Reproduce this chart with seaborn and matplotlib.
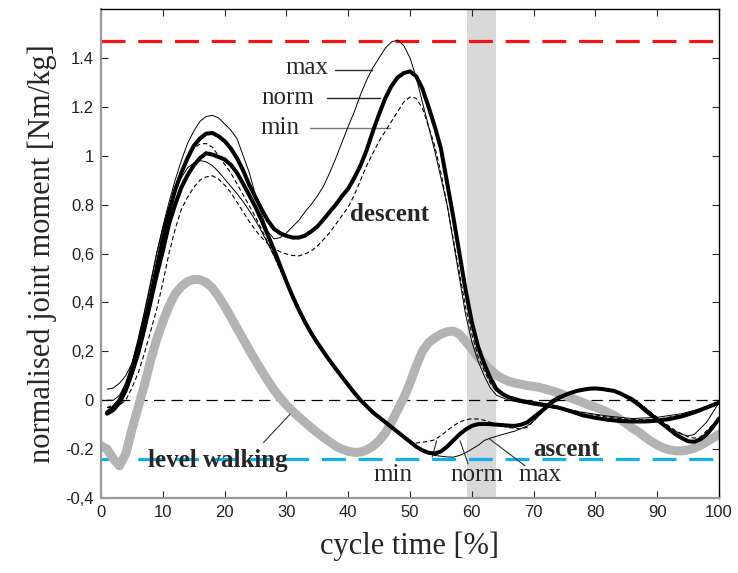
import numpy as np
import pandas as pd
import matplotlib
matplotlib.use("Agg")
import matplotlib.pyplot as plt
import seaborn as sns

# ---------------- data ----------------
x_dn = [1,2,3,4,5,6,7,8,9,10,11,12,13,14,15,16,17,18,19,20,21,22,23,24,25,26,27,28,29,30,31,32,33,34,35,36,37,38,39,40,41,42,43,44,45,46,47,48,49,50,51,52,53,54,55,56,57,58,59,60,61,62,63,64,65,66,68,70,72,74,76,78,80,82,84,86,88,90,92,94,96,98,100]
y_dn = [-0.05,-0.03,0.0,0.05,0.12,0.21,0.31,0.42,0.54,0.66,0.77,0.86,0.93,0.99,1.04,1.07,1.09,1.093,1.08,1.06,1.03,0.99,0.94,0.88,0.83,0.78,0.735,0.70,0.683,0.672,0.665,0.665,0.673,0.69,0.71,0.739,0.77,0.80,0.835,0.865,0.91,0.96,1.024,1.10,1.17,1.235,1.285,1.32,1.338,1.345,1.325,1.275,1.20,1.12,1.03,0.89,0.75,0.60,0.45,0.32,0.22,0.15,0.09,0.045,0.025,0.012,-0.003,-0.012,-0.02,-0.03,-0.045,-0.062,-0.072,-0.08,-0.085,-0.087,-0.087,-0.084,-0.077,-0.066,-0.05,-0.03,-0.01]

x_dx = [1,2,3,4,5,6,7,8,9,10,11,12,13,14,15,16,17,18,19,20,21,22,23,24,25,26,27,28,29,30,31,32,33,34,35,36,37,38,39,40,41,42,43,44,45,46,47,48,49,50,51,52,53,54,55,56,57,58,59,60,61,62,63,64,66,68,70,74,78,82,86,90,94,97,100]
y_dx = [0.045,0.05,0.07,0.10,0.15,0.24,0.35,0.47,0.60,0.71,0.81,0.90,0.98,1.05,1.10,1.14,1.16,1.165,1.155,1.13,1.105,1.07,1.0,0.93,0.84,0.76,0.69,0.66,0.665,0.684,0.71,0.735,0.77,0.80,0.835,0.875,0.93,0.99,1.055,1.12,1.18,1.25,1.31,1.36,1.40,1.44,1.465,1.473,1.45,1.40,1.32,1.22,1.12,1.02,0.91,0.80,0.65,0.50,0.35,0.24,0.16,0.10,0.05,0.02,0.0,-0.01,-0.02,-0.035,-0.05,-0.065,-0.075,-0.07,-0.055,-0.035,-0.005]

x_dm = [1,2,3,4,5,6,7,8,9,10,11,12,13,14,15,16,17,18,19,20,21,22,23,24,25,26,27,28,29,30,31,32,33,34,35,36,37,38,39,40,41,42,43,44,45,46,47,48,49,50,51,52,53,54,55,56,57,58,59,60,61,62,63,64,66,68,70,74,78,82,86,90,94,97,100]
y_dm = [-0.03,-0.03,-0.02,0.0,0.05,0.11,0.19,0.28,0.37,0.48,0.60,0.70,0.78,0.83,0.87,0.90,0.913,0.918,0.905,0.88,0.85,0.81,0.77,0.73,0.695,0.665,0.64,0.62,0.607,0.598,0.592,0.59,0.598,0.61,0.63,0.657,0.685,0.72,0.755,0.79,0.84,0.90,0.96,1.01,1.06,1.10,1.14,1.18,1.22,1.24,1.235,1.195,1.12,1.04,0.93,0.80,0.66,0.52,0.38,0.27,0.18,0.12,0.07,0.035,0.01,-0.005,-0.015,-0.03,-0.05,-0.07,-0.08,-0.078,-0.06,-0.035,-0.01]

x_an = list(range(1, 101))
y_an = [-0.055,-0.04,-0.01,0.04,0.11,0.19,0.29,0.40,0.51,0.61,0.72,0.80,0.87,0.92,0.96,0.99,1.01,1.005,0.995,0.985,0.963,0.93,0.885,0.838,0.79,0.735,0.675,0.615,0.55,0.485,0.425,0.37,0.32,0.275,0.235,0.198,0.162,0.128,0.095,0.062,0.03,0.0,-0.025,-0.05,-0.07,-0.09,-0.11,-0.13,-0.15,-0.17,-0.19,-0.205,-0.215,-0.218,-0.21,-0.19,-0.165,-0.14,-0.12,-0.105,-0.098,-0.097,-0.098,-0.10,-0.102,-0.104,-0.105,-0.10,-0.09,-0.07,-0.05,-0.03,-0.005,0.01,0.02,0.03,0.038,0.043,0.047,0.048,0.046,0.042,0.038,0.028,0.015,0.0,-0.018,-0.04,-0.06,-0.08,-0.10,-0.12,-0.14,-0.155,-0.168,-0.17,-0.16,-0.14,-0.11,-0.075]

x_ax = [1,2,3,4,5,6,7,8,9,10,11,12,13,14,15,16,17,18,19,20,21,22,23,24,25,26,27,28,29,30,31,32,33,34,35,36,37,38,39,40,41,42,43,44,45,46,47,48,50,52,54,56,57,58,59,60,61,62,63,65,67,69,70,71,72,73,74,76,78,80,82,84,86,88,90,92,94,95,96,98,100]
y_ax = [0.0,0.0,0.02,0.07,0.15,0.25,0.36,0.48,0.60,0.70,0.79,0.86,0.91,0.95,0.97,0.98,0.975,0.96,0.935,0.905,0.875,0.845,0.812,0.775,0.735,0.69,0.64,0.59,0.535,0.48,0.425,0.372,0.322,0.277,0.236,0.198,0.162,0.128,0.095,0.063,0.032,0.003,-0.022,-0.046,-0.07,-0.09,-0.11,-0.13,-0.17,-0.205,-0.226,-0.232,-0.233,-0.226,-0.215,-0.20,-0.185,-0.165,-0.155,-0.14,-0.126,-0.105,-0.085,-0.06,-0.035,-0.015,0.0,0.03,0.042,0.046,0.042,0.032,0.01,-0.03,-0.075,-0.115,-0.14,-0.146,-0.14,-0.09,-0.01]

x_am = [1,2,3,4,5,6,7,8,9,10,11,12,13,14,15,16,17,18,19,20,21,22,23,24,25,26,27,28,29,30,31,32,33,34,35,36,37,38,39,40,41,42,43,44,45,46,47,48,49,50,51,52,53,54,55,56,57,58,59,60,61,62,63,64,66,68,69,70,71,72,73,75,77,79,81,83,85,87,89,91,93,95,96,97,98,99,100]
y_am = [-0.03,-0.02,0.0,0.05,0.12,0.21,0.32,0.44,0.56,0.67,0.78,0.87,0.94,0.99,1.03,1.047,1.05,1.035,1.0,0.965,0.93,0.885,0.84,0.795,0.748,0.698,0.645,0.59,0.533,0.477,0.422,0.37,0.32,0.275,0.234,0.196,0.16,0.125,0.092,0.06,0.028,-0.003,-0.03,-0.055,-0.075,-0.095,-0.115,-0.135,-0.155,-0.17,-0.175,-0.172,-0.168,-0.162,-0.145,-0.125,-0.105,-0.09,-0.08,-0.076,-0.077,-0.082,-0.09,-0.10,-0.112,-0.118,-0.11,-0.085,-0.06,-0.035,-0.012,0.018,0.035,0.045,0.046,0.038,0.02,-0.01,-0.05,-0.09,-0.125,-0.15,-0.155,-0.15,-0.125,-0.10,-0.07]

x_lw = list(range(0, 101))
y_lw = [-0.186,-0.20,-0.24,-0.268,-0.22,-0.12,-0.03,0.06,0.16,0.249,0.32,0.385,0.435,0.465,0.485,0.494,0.493,0.482,0.46,0.425,0.385,0.34,0.295,0.25,0.205,0.162,0.12,0.08,0.042,0.01,-0.02,-0.045,-0.068,-0.09,-0.112,-0.133,-0.152,-0.17,-0.188,-0.20,-0.209,-0.213,-0.212,-0.203,-0.188,-0.165,-0.135,-0.09,-0.04,0.01,0.07,0.14,0.20,0.235,0.255,0.27,0.28,0.283,0.27,0.24,0.21,0.177,0.15,0.125,0.103,0.088,0.077,0.07,0.065,0.06,0.056,0.052,0.045,0.038,0.03,0.02,0.01,0.0,-0.01,-0.02,-0.028,-0.038,-0.05,-0.062,-0.078,-0.095,-0.115,-0.13,-0.15,-0.168,-0.183,-0.195,-0.203,-0.207,-0.207,-0.203,-0.196,-0.185,-0.17,-0.155,-0.139]

red_level = 1.47
blue_level = -0.24
span_x = (59.3, 63.9)

x_ticks = [0, 10, 20, 30, 40, 50, 60, 70, 80, 90, 100]
y_ticks = [-0.4, -0.2, 0, 0.2, 0.4, 0.6, 0.8, 1.0, 1.2, 1.4]
y_ticklabels = ["-0,4", "-0.2", "0", "0,2", "0,4", "0,6", "0.8", "1", "1.2", "1.4"]

# ---------------- plotting ----------------
sns.set_style("ticks")
plt.rcParams['font.family'] = ['Liberation Serif', 'DejaVu Serif']

fig = plt.figure(figsize=(7.38, 5.73), dpi=100)
ax = fig.add_axes([101/738, 1-498/573, 618/738, 489/573])

ax.axvspan(span_x[0], span_x[1], color='#d9d9d9', lw=0, zorder=0)
ax.axhline(red_level, color='#f01414', lw=2.3, dashes=(7.5, 4), zorder=1)
ax.axhline(blue_level, color='#12b0ea', lw=2.3, dashes=(7.5, 4), zorder=1)
ax.axhline(0, color='black', lw=0.9, dashes=(9, 5), zorder=1)

sns.lineplot(x=x_lw, y=y_lw, ax=ax, color='#b3b3b3', lw=6.5, estimator=None, zorder=2)
sns.lineplot(x=x_dx, y=y_dx, ax=ax, color='black', lw=0.7, estimator=None, zorder=3)
sns.lineplot(x=x_dm, y=y_dm, ax=ax, color='black', lw=0.8, estimator=None, zorder=3, linestyle=(0, (4, 2.5)))
sns.lineplot(x=x_ax, y=y_ax, ax=ax, color='black', lw=0.7, estimator=None, zorder=3)
sns.lineplot(x=x_am, y=y_am, ax=ax, color='black', lw=0.8, estimator=None, zorder=3, linestyle=(0, (4, 2.5)))
sns.lineplot(x=x_dn, y=y_dn, ax=ax, color='black', lw=2.9, estimator=None, zorder=4)
sns.lineplot(x=x_an, y=y_an, ax=ax, color='black', lw=2.9, estimator=None, zorder=4)

ax.set_xlim(0, 100)
ax.set_ylim(-0.4, 1.6)
ax.set_xticks(x_ticks)
ax.set_xticklabels([str(v) for v in x_ticks], family='Liberation Sans', fontsize=12, color='#222222')
ax.set_yticks(y_ticks)
ax.set_yticklabels(y_ticklabels, family='Liberation Sans', fontsize=12, color='#222222')
ax.tick_params(direction='in', length=5, width=0.8, top=True, right=True, pad=5)

ax.set_xlabel('cycle time [%]', fontsize=22, labelpad=8)
ax.set_ylabel('normalised joint moment [Nm/kg]', fontsize=22, labelpad=6)

for s in ['top', 'right']:
    ax.spines[s].set_color('black')
    ax.spines[s].set_linewidth(1.0)
for s in ['left', 'bottom']:
    ax.spines[s].set_color('#9a9a9a')
    ax.spines[s].set_linewidth(1.6)

# annotations
ann_fs = 18
ax.text(33.3, 1.36, 'max', fontsize=ann_fs, ha='center', va='center')
ax.text(30.3, 1.235, 'norm', fontsize=ann_fs, ha='center', va='center')
ax.text(29.0, 1.113, 'min', fontsize=ann_fs, ha='center', va='center')
ax.plot([37.9, 43.8], [1.35, 1.35], color='#333333', lw=1.0)
ax.plot([36.5, 45.1], [1.235, 1.235], color='#222222', lw=1.0)
ax.plot([33.8, 46.8], [1.113, 1.113], color='#777777', lw=1.0)

ax.text(40.3, 0.76, 'descent', fontsize=ann_fs, fontweight='bold', ha='left', va='center')
ax.text(18.9, -0.245, 'level walking', fontsize=ann_fs, fontweight='bold', ha='center', va='center')
ax.plot([26.3, 30.6], [-0.173, -0.057], color='#333333', lw=0.8)
ax.text(75.4, -0.2, 'ascent', fontsize=ann_fs, fontweight='bold', ha='center', va='center')

ax.text(47.2, -0.305, 'min', fontsize=ann_fs, ha='center', va='center')
ax.text(60.8, -0.305, 'norm', fontsize=ann_fs, ha='center', va='center')
ax.text(71.0, -0.305, 'max', fontsize=ann_fs, ha='center', va='center')
ax.plot([53.6, 54.3], [-0.232, -0.166], color='#333333', lw=0.8)
ax.plot([59.4, 58.1], [-0.261, -0.166], color='#333333', lw=0.8)
ax.plot([68.6, 62.9], [-0.268, -0.159], color='#333333', lw=0.8)

fig.savefig('out.png', dpi=100)
